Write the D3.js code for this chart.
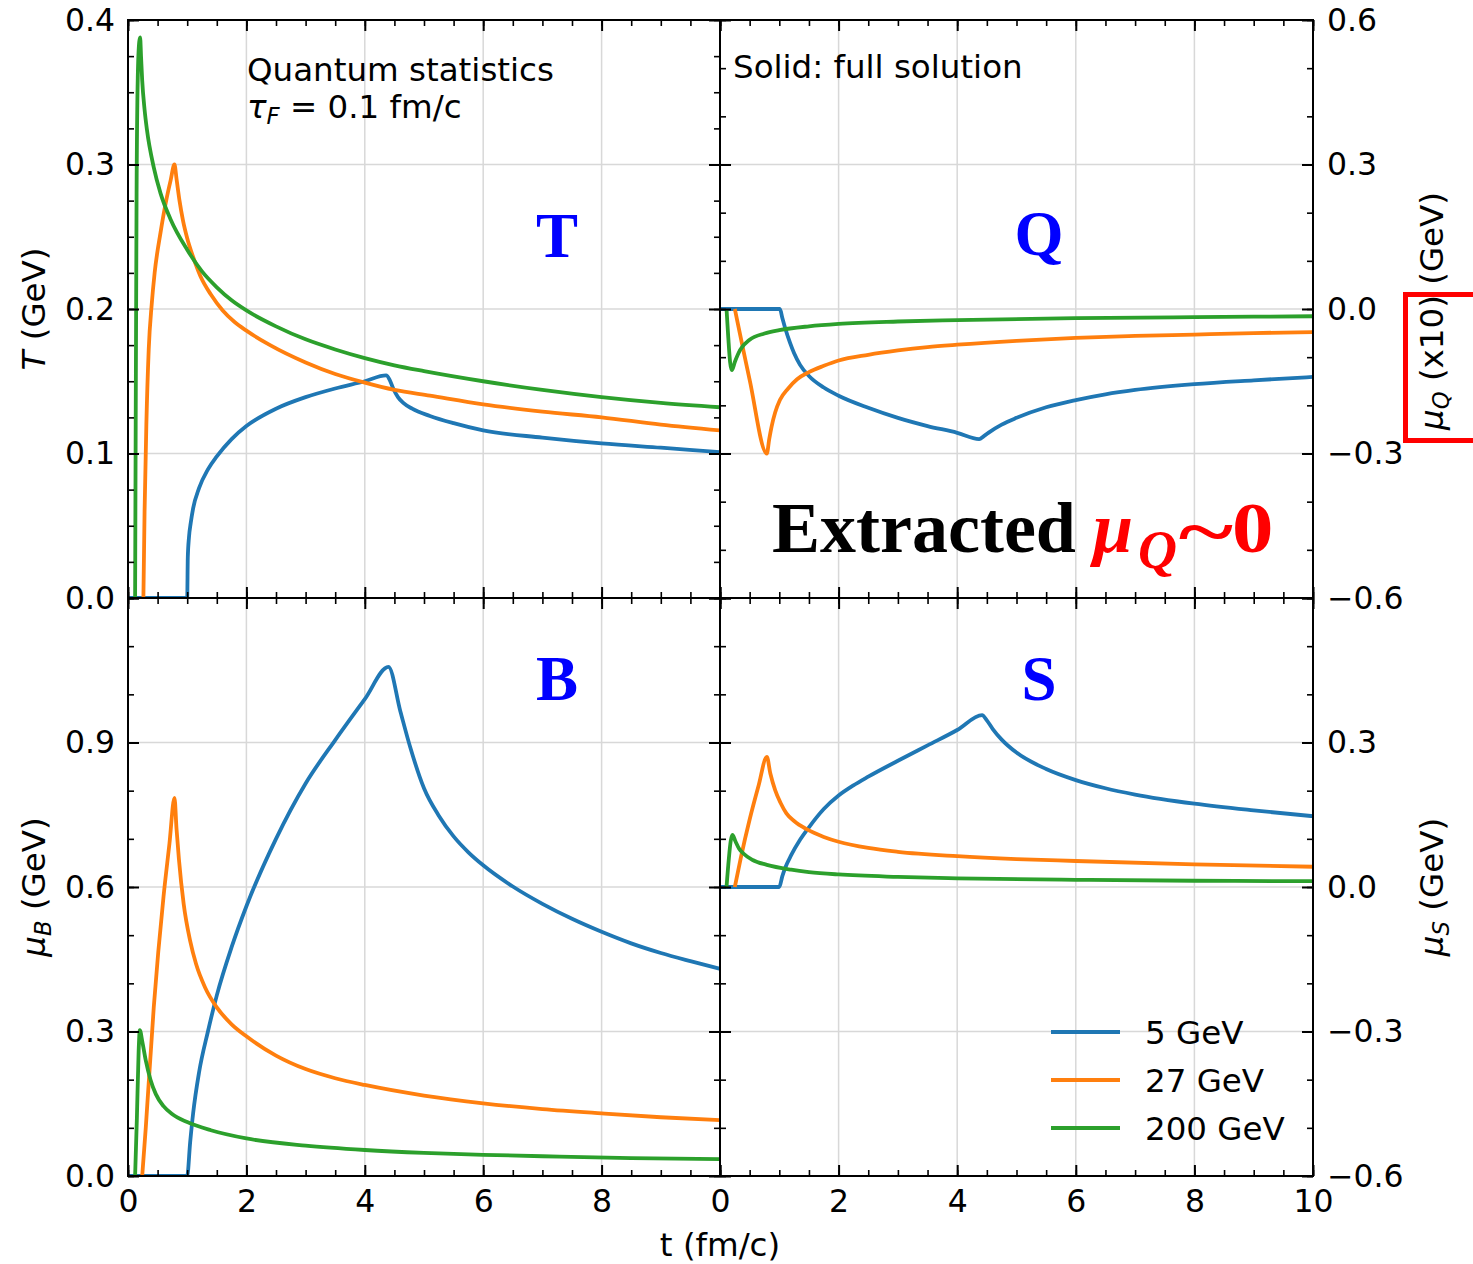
<!DOCTYPE html>
<html><head><meta charset="utf-8">
<script src="https://cdn.jsdelivr.net/npm/d3@7"></script>
<style>body{margin:0;background:#fff} svg{display:block}</style>
</head><body><svg id="c" width="1473" height="1264" font-family="DejaVu Sans"></svg>
<script>
// ---------- data (t in fm/c, values in GeV) ----------
const seriesNames = ["5 GeV", "27 GeV", "200 GeV"];
const seriesColors = ["#1f77b4", "#ff7f0e", "#2ca02c"];

const T_5 = [[0,0],[1.0,0],[1.01,0.028],[1.03,0.042],[1.06,0.052],[1.1,0.062],[1.2,0.076],[1.35,0.089],[1.5,0.098],[1.75,0.110],[2.0,0.119],[2.5,0.131],[3.0,0.139],[3.5,0.145],[4.0,0.150],[4.36,0.154],[4.42,0.151],[4.48,0.145],[4.56,0.139],[4.65,0.135],[4.8,0.131],[5.1,0.126],[5.5,0.121],[6.0,0.116],[7.0,0.111],[8.0,0.107],[9.0,0.104],[10,0.101]];
const T_27 = [[0.26,0],[0.28,0.06],[0.31,0.12],[0.35,0.172],[0.40,0.203],[0.45,0.225],[0.55,0.253],[0.65,0.276],[0.72,0.289],[0.785,0.300],[0.82,0.290],[0.87,0.275],[0.93,0.261],[1.0,0.249],[1.1,0.236],[1.22,0.223],[1.4,0.210],[1.6,0.199],[1.8,0.191],[2.0,0.185],[2.4,0.175],[3.0,0.163],[3.5,0.155],[4.0,0.149],[4.5,0.144],[5.1,0.140],[6.0,0.134],[7.0,0.129],[8.0,0.125],[9.0,0.120],[10,0.116]];
const T_200 = [[0.12,0],[0.13,0.12],[0.145,0.28],[0.165,0.36],[0.19,0.385],[0.205,0.388],[0.22,0.375],[0.24,0.358],[0.28,0.338],[0.32,0.324],[0.435,0.298],[0.55,0.280],[0.72,0.262],[1.0,0.241],[1.25,0.226],[1.5,0.215],[1.75,0.206],[2.0,0.199],[2.5,0.188],[3.0,0.179],[3.5,0.172],[4.0,0.166],[4.5,0.161],[5.0,0.157],[6.0,0.150],[7.0,0.144],[8.0,0.139],[9.0,0.135],[10,0.132]];

const muB_5 = [[0,0],[1.0,0],[1.05,0.07],[1.1,0.13],[1.2,0.215],[1.35,0.30],[1.5,0.375],[1.75,0.475],[2.0,0.56],[2.5,0.70],[3.0,0.815],[3.5,0.905],[4.0,0.99],[4.4,1.057],[4.6,0.965],[4.77,0.889],[5.0,0.805],[5.25,0.748],[5.5,0.705],[5.75,0.672],[6.0,0.645],[6.5,0.601],[7.0,0.565],[7.5,0.534],[8.0,0.507],[8.5,0.483],[9.0,0.463],[9.5,0.446],[10,0.430]];
const muB_27 = [[0.24,0],[0.3,0.10],[0.435,0.35],[0.6,0.58],[0.7,0.69],[0.785,0.785],[0.82,0.72],[0.86,0.658],[0.94,0.565],[1.05,0.488],[1.15,0.44],[1.3,0.392],[1.5,0.35],[1.75,0.315],[2.0,0.29],[2.5,0.25],[3.0,0.222],[3.5,0.203],[4.0,0.189],[5.0,0.167],[6.0,0.151],[7.0,0.139],[8.0,0.130],[9.0,0.122],[10,0.116]];
const muB_200 = [[0.12,0],[0.15,0.12],[0.18,0.26],[0.2,0.303],[0.24,0.28],[0.3,0.24],[0.38,0.20],[0.47,0.17],[0.6,0.145],[0.75,0.128],[1.0,0.112],[1.4,0.095],[2.0,0.078],[3.0,0.063],[4.0,0.054],[5.0,0.048],[6.0,0.044],[7.0,0.041],[8.5,0.037],[10,0.035]];

const muQ_5 = [[0,0],[1.01,0],[1.05,-0.018],[1.1,-0.04],[1.18,-0.07],[1.25,-0.092],[1.35,-0.116],[1.5,-0.139],[1.75,-0.163],[2.0,-0.180],[2.5,-0.205],[3.0,-0.226],[3.5,-0.243],[4.0,-0.257],[4.37,-0.270],[4.45,-0.264],[4.55,-0.255],[4.75,-0.240],[5.0,-0.226],[5.5,-0.204],[6.0,-0.189],[6.5,-0.177],[7.0,-0.168],[8.0,-0.156],[9.0,-0.148],[10,-0.141]];
const muQ_27 = [[0.25,0],[0.5,-0.147],[0.79,-0.300],[0.83,-0.270],[0.87,-0.244],[0.93,-0.215],[1.01,-0.189],[1.15,-0.165],[1.3,-0.146],[1.5,-0.131],[1.75,-0.118],[2.0,-0.107],[2.5,-0.095],[3.0,-0.086],[3.5,-0.079],[4.0,-0.074],[5.0,-0.066],[6.0,-0.060],[7.0,-0.056],[8.0,-0.053],[9.0,-0.050],[10,-0.048]];
const muQ_200 = [[0.11,0],[0.14,-0.06],[0.17,-0.11],[0.2,-0.127],[0.25,-0.110],[0.34,-0.085],[0.5,-0.064],[0.75,-0.051],[1.0,-0.044],[1.5,-0.036],[2.0,-0.031],[3.0,-0.026],[4.0,-0.023],[6.0,-0.019],[8.0,-0.017],[10,-0.015]];

const muS_5 = [[0,0],[1.0,0],[1.05,0.022],[1.1,0.04],[1.2,0.066],[1.35,0.098],[1.5,0.124],[1.75,0.162],[2.0,0.19],[2.25,0.211],[2.5,0.229],[3.0,0.262],[3.5,0.294],[4.0,0.326],[4.42,0.357],[4.5,0.346],[4.6,0.328],[4.75,0.306],[5.0,0.279],[5.5,0.245],[6.0,0.222],[6.5,0.205],[7.0,0.192],[8.0,0.173],[9.0,0.159],[10,0.147]];
const muS_27 = [[0.25,0],[0.35,0.06],[0.5,0.14],[0.65,0.21],[0.79,0.270],[0.85,0.235],[0.93,0.201],[1.02,0.175],[1.12,0.153],[1.25,0.137],[1.46,0.120],[1.75,0.104],[2.0,0.094],[2.5,0.081],[3.0,0.073],[4.0,0.064],[5.0,0.058],[6.0,0.054],[8.0,0.047],[10,0.042]];
const muS_200 = [[0.11,0],[0.15,0.06],[0.18,0.095],[0.21,0.108],[0.26,0.095],[0.32,0.080],[0.39,0.070],[0.55,0.056],[0.79,0.046],[1.2,0.036],[1.5,0.031],[2.0,0.026],[3.0,0.021],[4.0,0.018],[6.0,0.015],[8.0,0.013],[10,0.012]];

const xTicks = [0,2,4,6,8,10];
const xLabelsLeft = [0,2,4,6,8];
const xLabelsRight = [0,2,4,6,8,10];
const T_ticks = [0,0.1,0.2,0.3,0.4];
const muB_ticks = [0,0.3,0.6,0.9,1.2];
const muB_labels = [0,0.3,0.6,0.9];
const mu_ticks = [-0.6,-0.3,0,0.3,0.6];
const muQ_labels = [-0.6,-0.3,0,0.3,0.6];
const muS_labels = [-0.6,-0.3,0,0.3];

// ---------- layout ----------
const svg = d3.select("#c");
const XL=[128,720], XR=[720,1313], YT=[20,598], YB=[598,1176];
const FS = 31.5;   // tick labels
const FT = 32.5;   // other texts

const panels = [
  {id:"pT", xr:XL, yr:YT, dom:[0,0.4], major:T_ticks, minor:0.025, data:[T_5,T_27,T_200], ySide:"left", yLabels:T_ticks, xLabels:null, letter:"T", lx:557, ly:257},
  {id:"pQ", xr:XR, yr:YT, dom:[-0.6,0.6], major:mu_ticks, minor:0.1, data:[muQ_5,muQ_27,muQ_200], ySide:"right", yLabels:muQ_labels, xLabels:null, letter:"Q", lx:1039, ly:255},
  {id:"pB", xr:XL, yr:YB, dom:[0,1.2], major:muB_ticks, minor:0.1, data:[muB_5,muB_27,muB_200], ySide:"left", yLabels:muB_labels, xLabels:xLabelsLeft, letter:"B", lx:557, ly:700},
  {id:"pS", xr:XR, yr:YB, dom:[-0.6,0.6], major:mu_ticks, minor:0.1, data:[muS_5,muS_27,muS_200], ySide:"right", yLabels:muS_labels, xLabels:xLabelsRight, letter:"S", lx:1039, ly:700}
];

const fmt = d3.format(".1f");
const defs = svg.append("defs");

panels.forEach(p => {
  p.x = d3.scaleLinear([0,10], p.xr);
  p.y = d3.scaleLinear(p.dom, [p.yr[1], p.yr[0]]);
});

// grid
panels.forEach(p => {
  const g = svg.append("g").attr("stroke","#d8d8d8").attr("stroke-width",1.5);
  g.selectAll("line.v").data(xTicks.slice(1,-1)).join("line")
    .attr("x1", d=>p.x(d)).attr("x2", d=>p.x(d)).attr("y1", p.yr[0]).attr("y2", p.yr[1]);
  g.selectAll("line.h").data(p.major.slice(1,-1)).join("line")
    .attr("x1", p.xr[0]).attr("x2", p.xr[1]).attr("y1", d=>p.y(d)).attr("y2", d=>p.y(d));
});

// curves
panels.forEach(p => {
  defs.append("clipPath").attr("id","clip"+p.id).append("rect")
    .attr("x",p.xr[0]).attr("y",p.yr[0]).attr("width",p.xr[1]-p.xr[0]).attr("height",p.yr[1]-p.yr[0]);
  const line = d3.line().x(d=>p.x(d[0])).y(d=>p.y(d[1])).curve(d3.curveMonotoneX);
  svg.append("g").attr("clip-path","url(#clip"+p.id+")")
    .selectAll("path").data(p.data).join("path")
    .attr("d", line).attr("fill","none")
    .attr("stroke",(d,i)=>seriesColors[i]).attr("stroke-width",3.8)
    .attr("stroke-linejoin","round").attr("stroke-linecap","butt");
});

// axes / ticks
function styleAxis(g, w){
  g.select(".domain").remove();
  g.attr("font-family","DejaVu Sans").attr("font-size",FS);
  g.selectAll(".tick line").attr("stroke","#000").attr("stroke-width",w);
  g.selectAll(".tick text").attr("fill","#000");
}
panels.forEach(p => {
  const minorY = d3.range(p.dom[0], p.dom[1]+1e-9, p.minor);
  const minorX = d3.range(0, 10+1e-9, 0.5);
  const bottom = p.yr[1], top = p.yr[0], left = p.xr[0], right = p.xr[1];
  [[d3.axisBottom, bottom],[d3.axisTop, top]].forEach(([ax,pos])=>{
    svg.append("g").attr("transform",`translate(0,${pos})`)
      .call(ax(p.x).tickValues(minorX).tickSizeInner(-6).tickSizeOuter(0).tickFormat(""))
      .call(g=>styleAxis(g,1.6));
  });
  svg.append("g").attr("transform",`translate(0,${top})`)
    .call(d3.axisTop(p.x).tickValues(xTicks).tickSizeInner(-11).tickSizeOuter(0).tickFormat(""))
    .call(g=>styleAxis(g,2));
  svg.append("g").attr("transform",`translate(0,${bottom})`)
    .call(d3.axisBottom(p.x).tickValues(xTicks).tickSizeInner(-11).tickSizeOuter(0).tickPadding(14)
      .tickFormat(d => (p.xLabels && p.xLabels.includes(d)) ? d3.format("d")(d) : ""))
    .call(g=>styleAxis(g,2));
  [[d3.axisLeft, left],[d3.axisRight, right]].forEach(([ax,pos])=>{
    svg.append("g").attr("transform",`translate(${pos},0)`)
      .call(ax(p.y).tickValues(minorY).tickSizeInner(-6).tickSizeOuter(0).tickFormat(""))
      .call(g=>styleAxis(g,1.6));
  });
  const labFmt = d => (p.yLabels.some(v=>Math.abs(v-d)<1e-9)) ? fmt(d) : "";
  svg.append("g").attr("transform",`translate(${left},0)`)
    .call(d3.axisLeft(p.y).tickValues(p.major).tickSizeInner(-11).tickSizeOuter(0).tickPadding(13)
      .tickFormat(p.ySide==="left" ? labFmt : ""))
    .call(g=>styleAxis(g,2));
  svg.append("g").attr("transform",`translate(${right},0)`)
    .call(d3.axisRight(p.y).tickValues(p.major).tickSizeInner(-11).tickSizeOuter(0).tickPadding(14)
      .tickFormat(p.ySide==="right" ? labFmt : ""))
    .call(g=>styleAxis(g,2));
  svg.append("rect").attr("x",left).attr("y",top).attr("width",right-left).attr("height",bottom-top)
    .attr("fill","none").attr("stroke","#000").attr("stroke-width",2);
  svg.append("text").attr("x",p.lx).attr("y",p.ly).attr("text-anchor","middle")
    .attr("font-family","Liberation Serif").attr("font-weight","bold").attr("font-size",63)
    .attr("fill","#0000ff").text(p.letter);
});

// axis titles
function mathLabel(x, y, sym, sub, rest, rotate){
  const t = svg.append("text").attr("font-size",FT).attr("fill","#000")
    .attr("text-anchor","middle")
    .attr("transform", rotate ? `translate(${x},${y}) rotate(-90)` : `translate(${x},${y})`);
  t.append("tspan").attr("font-style","italic").text(sym);
  if (sub) t.append("tspan").attr("font-style","italic").attr("font-size",FT*0.7).attr("dy",6).text(sub);
  t.append("tspan").attr("dy", sub ? -6 : 0).text(rest);
  return t;
}
mathLabel(45, 309, "T", null, " (GeV)", true);
mathLabel(45, 887, "μ", "B", " (GeV)", true);
mathLabel(1443, 311, "μ", "Q", " (x10) (GeV)", true);
mathLabel(1443, 887, "μ", "S", " (GeV)", true);
svg.append("text").attr("x",720).attr("y",1256).attr("text-anchor","middle").attr("font-size",FT).text("t (fm/c)");

// annotations
svg.append("text").attr("x",247).attr("y",81).attr("font-size",FT).text("Quantum statistics");
const tau = svg.append("text").attr("x",247).attr("y",118).attr("font-size",FT);
tau.append("tspan").attr("font-style","italic").text("τ");
tau.append("tspan").attr("font-style","italic").attr("font-size",FT*0.7).attr("dy",6).text("F");
tau.append("tspan").attr("dy",-6).text(" = 0.1 fm/c");
svg.append("text").attr("x",733).attr("y",78).attr("font-size",FT).text("Solid: full solution");

const serif = g => g.attr("font-family","Liberation Serif").attr("font-weight","bold");
svg.append("text").attr("x",772).attr("y",552).call(serif).attr("font-size",72).attr("fill","#000").text("Extracted");
svg.append("text").attr("x",1093).attr("y",552).call(serif).attr("font-size",72).attr("font-style","italic").attr("fill","#ff0000").text("μ");
svg.append("text").attr("x",1138).attr("y",568).call(serif).attr("font-size",54).attr("font-style","italic").attr("fill","#ff0000").text("Q");
svg.append("text").attr("transform","translate(1206,556) scale(1.45,1)").attr("text-anchor","middle")
  .call(serif).attr("font-size",72).attr("fill","#ff0000").text("~");
svg.append("text").attr("transform","translate(1232,552) scale(1.15,1)").call(serif).attr("font-size",72).attr("fill","#ff0000").text("0");

// red box
svg.append("rect").attr("x",1405.5).attr("y",294.5).attr("width",100).attr("height",146)
  .attr("fill","none").attr("stroke","#ff0000").attr("stroke-width",5);

// legend
const legY = d3.scalePoint().domain(seriesNames).range([1032,1128]);
const leg = svg.append("g");
leg.selectAll("line").data(seriesNames).join("line")
  .attr("x1",1051).attr("x2",1120).attr("y1",d=>legY(d)).attr("y2",d=>legY(d))
  .attr("stroke",(d,i)=>seriesColors[i]).attr("stroke-width",3.8);
leg.selectAll("text").data(seriesNames).join("text")
  .attr("x",1145).attr("y",d=>legY(d)).attr("dy","0.36em").attr("font-size",FT).text(d=>d);
</script></body></html>
